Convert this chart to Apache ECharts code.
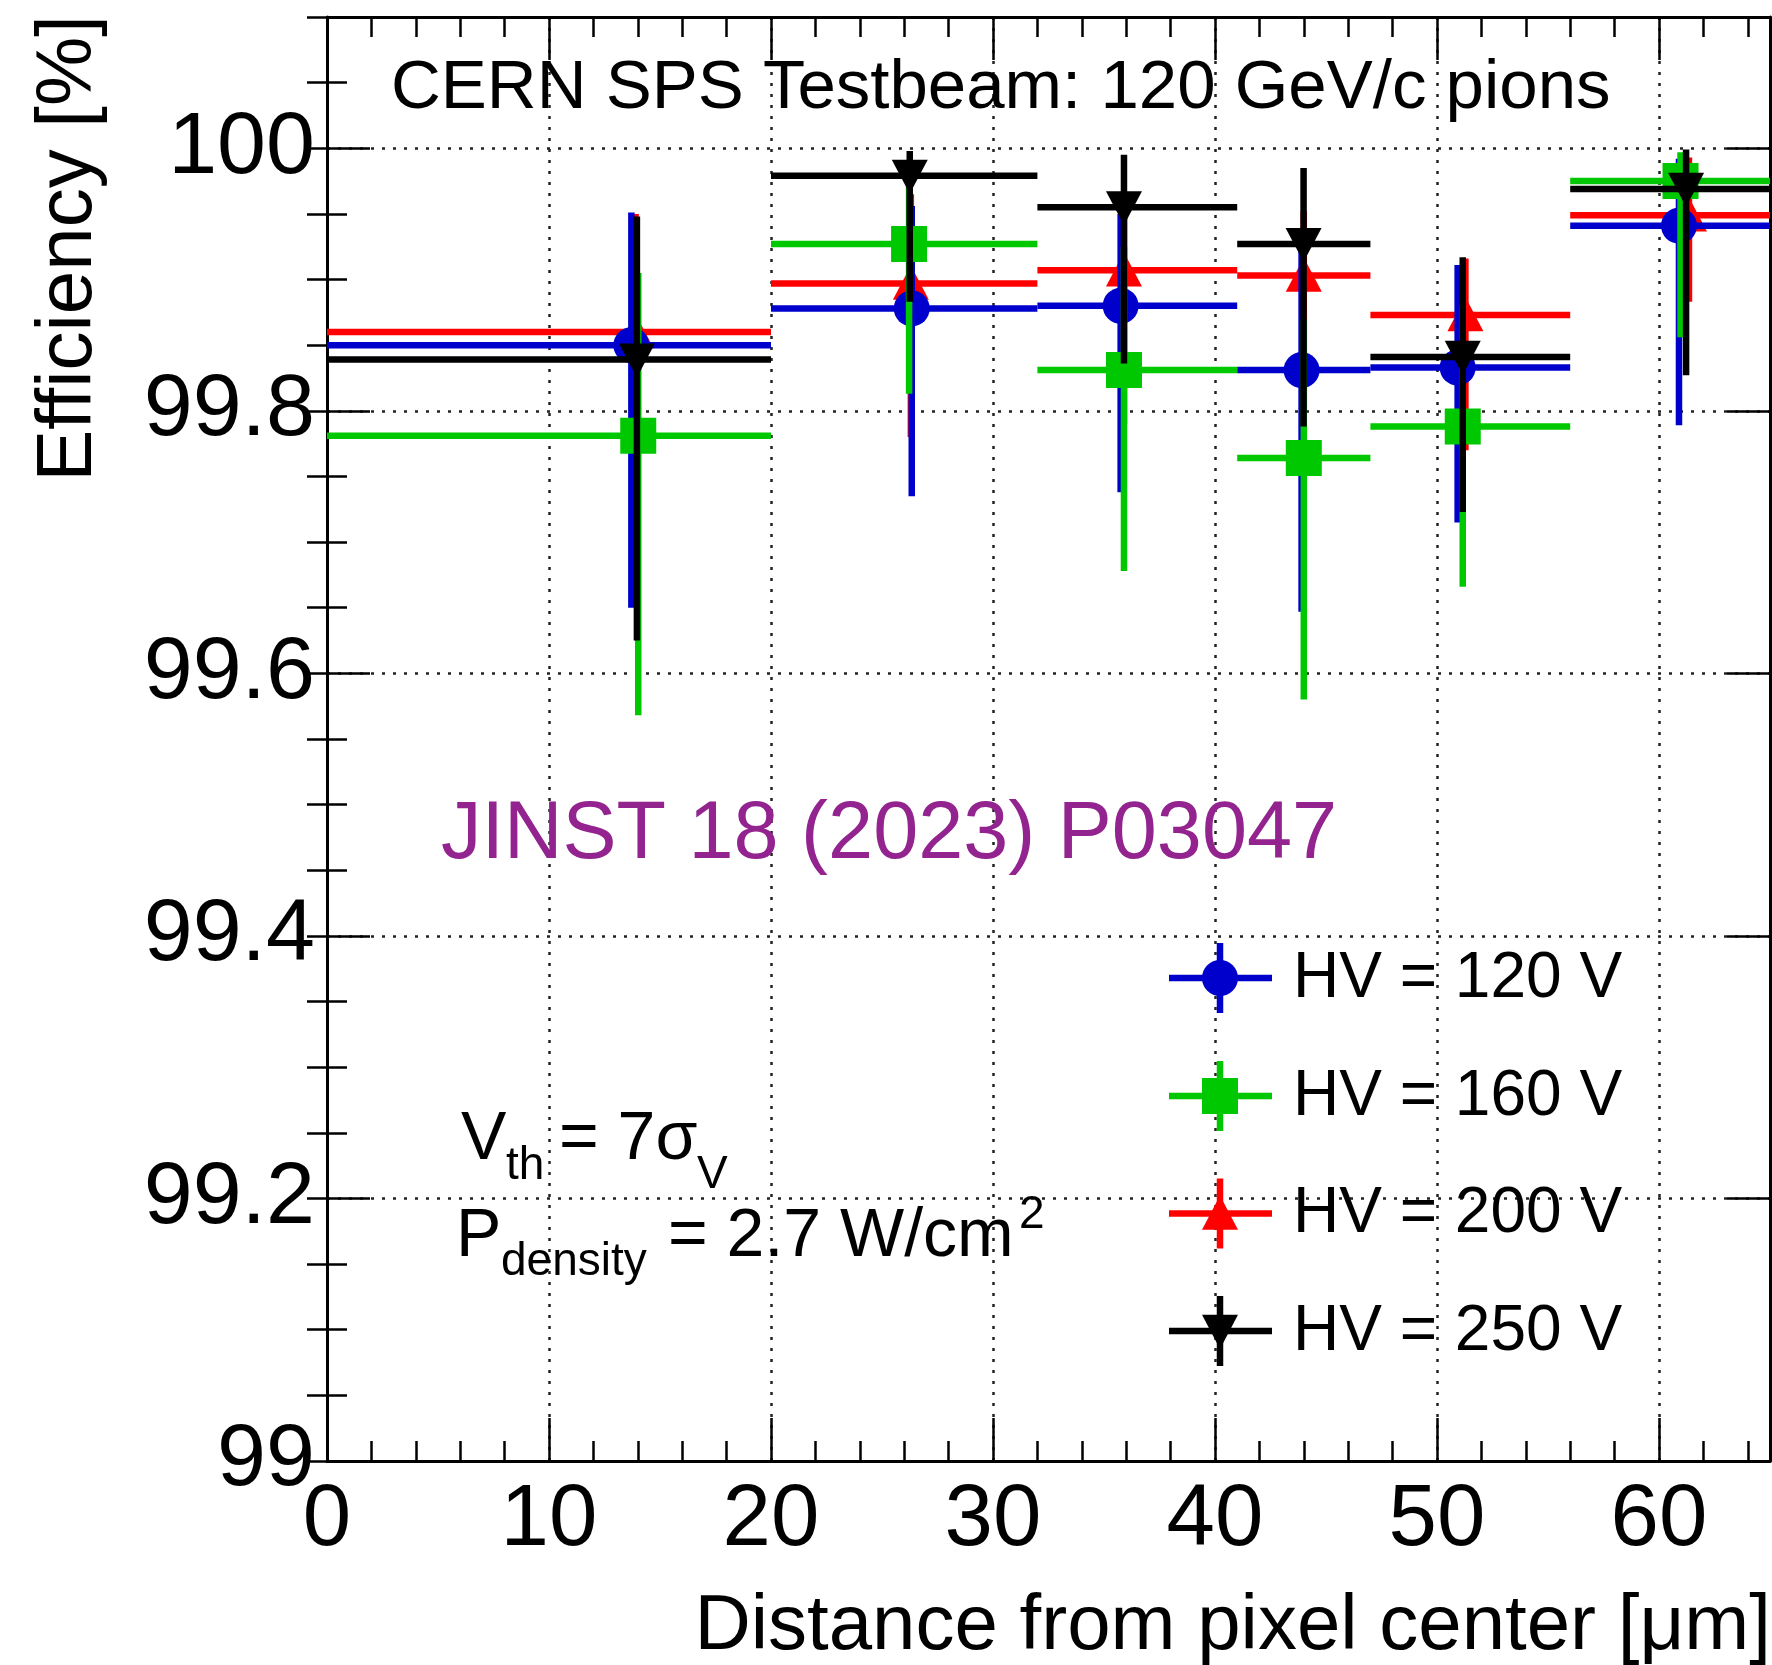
<!DOCTYPE html>
<html>
<head>
<meta charset="utf-8">
<script src="https://cdn.jsdelivr.net/npm/echarts@6/dist/echarts.min.js"></script>
<style>
html, body { margin: 0; padding: 0; background: #ffffff; }
#chart { width: 1772px; height: 1665px; }
</style>
</head>
<body>
<div id="chart"></div>
<script>
// ---------------- data ----------------
const binLow  = [0, 20, 32, 41, 47, 56];
const binHigh = [20, 32, 41, 47, 56, 66];

const xMin = 0, xMax = 65, xMajor = 10, xMinor = 2;
const yMin = 99, yMax = 100.1, yMajor = 0.2, yMinor = 0.05;

const seriesNames = ['HV = 120 V', 'HV = 160 V', 'HV = 200 V', 'HV = 250 V'];

// HV = 120 V
const hv120X    = [13.71, 26.34, 35.75, 43.90, 50.93, 60.90];
const hv120Eff  = [99.850, 99.878, 99.880, 99.831, 99.833, 99.941];
const hv120Low  = [99.650, 99.735, 99.738, 99.647, 99.715, 99.789];
const hv120High = [99.951, 99.956, 99.950, 99.925, 99.911, 99.992];
// HV = 160 V
const hv160X    = [14.02, 26.22, 35.90, 44.00, 51.16, 60.97];
const hv160Eff  = [99.781, 99.927, 99.831, 99.764, 99.788, 99.975];
const hv160Low  = [99.568, 99.813, 99.678, 99.580, 99.666, 99.856];
const hv160High = [99.905, 99.975, 99.925, 99.870, 99.880, 99.997];
// HV = 200 V
const hv200X    = [13.90, 26.30, 35.90, 44.00, 51.28, 61.35];
const hv200Eff  = [99.860, 99.897, 99.907, 99.903, 99.873, 99.949];
const hv200Low  = [99.700, 99.780, 99.790, 99.800, 99.770, 99.883];
const hv200High = [99.950, 99.965, 99.949, 99.952, 99.916, 99.993];
// HV = 250 V
const hv250X    = [13.96, 26.25, 35.90, 43.99, 51.16, 61.22];
const hv250Eff  = [99.839, 99.979, 99.955, 99.927, 99.841, 99.969];
const hv250Low  = [99.625, 99.883, 99.836, 99.788, 99.723, 99.827];
const hv250High = [99.948, 99.998, 99.995, 99.985, 99.917, 99.999];

// ---------------- styles ----------------
const FONT = "'Liberation Sans', Arial, Helvetica, sans-serif";
const LW = 6.5;
const MS = 18;
const styleDefs = {
  'HV = 120 V': { color: '#0000cc', marker: 'circle' },
  'HV = 160 V': { color: '#00c800', marker: 'square' },
  'HV = 200 V': { color: '#ff0000', marker: 'triangleUp' },
  'HV = 250 V': { color: '#000000', marker: 'triangleDown' }
};

function buildRows(xs, eff, lo, hi) {
  return xs.map((x, i) => [x, eff[i], binLow[i], binHigh[i], lo[i], hi[i]]);
}
const seriesData = {
  'HV = 120 V': buildRows(hv120X, hv120Eff, hv120Low, hv120High),
  'HV = 160 V': buildRows(hv160X, hv160Eff, hv160Low, hv160High),
  'HV = 200 V': buildRows(hv200X, hv200Eff, hv200Low, hv200High),
  'HV = 250 V': buildRows(hv250X, hv250Eff, hv250Low, hv250High)
};

function markerShape(kind, cx, cy, color) {
  const s = MS;
  if (kind === 'circle') {
    return { type: 'circle', shape: { cx: cx, cy: cy, r: s }, style: { fill: color } };
  }
  if (kind === 'square') {
    return { type: 'rect', shape: { x: cx - s, y: cy - s, width: 2 * s, height: 2 * s }, style: { fill: color } };
  }
  if (kind === 'triangleUp') {
    return { type: 'polygon', shape: { points: [[cx, cy - s], [cx - s, cy + s * 0.9], [cx + s, cy + s * 0.9]] }, style: { fill: color } };
  }
  return { type: 'polygon', shape: { points: [[cx - s, cy - s * 0.9], [cx + s, cy - s * 0.9], [cx, cy + s]] }, style: { fill: color } };
}

function makeRender(name) {
  const st = styleDefs[name];
  return function (params, api) {
    const x = api.value(0), y = api.value(1);
    const c = api.coord([x, y]);
    const l = api.coord([api.value(2), y]);
    const r = api.coord([api.value(3), y]);
    const lo = api.coord([x, api.value(4)]);
    const hi = api.coord([x, api.value(5)]);
    const cs = params.coordSys;
    const xl = Math.max(l[0], cs.x);
    const xr = Math.min(r[0], cs.x + cs.width);
    return {
      type: 'group',
      children: [
        { type: 'line', shape: { x1: xl, y1: c[1], x2: xr, y2: c[1] }, style: { stroke: st.color, lineWidth: LW, lineCap: 'butt' } },
        { type: 'line', shape: { x1: c[0], y1: hi[1], x2: c[0], y2: lo[1] }, style: { stroke: st.color, lineWidth: LW, lineCap: 'butt' } },
        markerShape(st.marker, c[0], c[1], st.color)
      ]
    };
  };
}

// drawing order (last on top)
const drawOrder = ['HV = 200 V', 'HV = 120 V', 'HV = 160 V', 'HV = 250 V'];
const series = drawOrder.map(name => ({
  name: name,
  type: 'custom',
  xAxisIndex: 0,
  yAxisIndex: 0,
  renderItem: makeRender(name),
  encode: { x: [0, 2, 3], y: [1, 4, 5] },
  data: seriesData[name],
  z: 5
}));

// ---------------- axes ----------------
const black = '#000000';
const frameLine = { show: true, onZero: false, lineStyle: { color: black, width: 3 } };
function tickAxis(dim, position, interval, len, main) {
  return {
    type: 'value',
    position: position,
    min: dim === 'x' ? xMin : yMin,
    max: dim === 'x' ? xMax : yMax,
    interval: interval,
    axisLine: main ? frameLine : { show: false },
    axisTick: { show: true, inside: true, length: len, lineStyle: { color: black, width: 2.5 } },
    axisLabel: { show: false },
    splitLine: { show: false }
  };
}

const xMainAxis = tickAxis('x', 'bottom', xMajor, 43, true);
xMainAxis.axisLabel = {
  show: true, margin: 17, color: black, fontSize: 87, fontFamily: FONT,
  showMaxLabel: false
};
xMainAxis.splitLine = { show: true, lineStyle: { color: '#222', width: 2.5, type: [3, 8] } };

const yMainAxis = tickAxis('y', 'left', yMajor, 43, true);
yMainAxis.axisLabel = {
  show: true, margin: 12, color: black, fontSize: 88, fontFamily: FONT,
  showMaxLabel: false,
  formatter: function (v) {
    return Math.abs(v - Math.round(v)) < 1e-6 ? String(Math.round(v)) : v.toFixed(1);
  }
};
yMainAxis.splitLine = { show: true, lineStyle: { color: '#222', width: 2.5, type: [3, 8] } };

const xAxes = [
  xMainAxis,
  tickAxis('x', 'bottom', xMinor, 20, false),
  tickAxis('x', 'top', xMajor, 43, true),
  tickAxis('x', 'top', xMinor, 20, false)
];
const yAxes = [
  yMainAxis,
  tickAxis('y', 'left', yMinor, 20, false),
  tickAxis('y', 'right', yMajor, 43, true),
  tickAxis('y', 'right', yMinor, 20, false)
];

// ---------------- legend & texts (graphic) ----------------
const legendRowsY = [978, 1096, 1213.5, 1331];
const legendGraphics = [];
seriesNames.forEach((name, i) => {
  const st = styleDefs[name];
  const y = legendRowsY[i];
  legendGraphics.push({ type: 'line', shape: { x1: 1169, y1: y, x2: 1272, y2: y }, style: { stroke: st.color, lineWidth: LW }, z: 10 });
  legendGraphics.push({ type: 'line', shape: { x1: 1220, y1: y - 35, x2: 1220, y2: y + 35 }, style: { stroke: st.color, lineWidth: LW }, z: 10 });
  const m = markerShape(st.marker, 1220, y, st.color);
  m.z = 10;
  legendGraphics.push(m);
  legendGraphics.push({
    type: 'text', x: 1293, y: y + 1, z: 10,
    style: { text: name, fontSize: 64, fontFamily: FONT, fill: black, align: 'left', verticalAlign: 'middle', textAlign: 'left', textVerticalAlign: 'middle' }
  });
});

function txt(text, x, y, size, opts) {
  const o = opts || {};
  return {
    type: 'text', x: x, y: y, z: 10,
    rotation: o.rotation || 0,
    style: {
      text: text, fontSize: size, fontFamily: FONT, fill: o.fill || black,
      align: o.align || 'left', verticalAlign: o.valign || 'middle',
      textAlign: o.align || 'left', textVerticalAlign: o.valign || 'middle'
    }
  };
}

const textGraphics = [
  txt('CERN SPS Testbeam: 120 GeV/c pions', 391, 89, 69),
  txt('JINST 18 (2023) P03047', 441, 836, 81, { fill: '#93238f' }),
  txt('V', 461, 1140, 68),
  txt('th', 506, 1166, 46),
  txt('= 7σ', 559, 1140, 68),
  txt('V', 697, 1175, 46),
  txt('P', 456, 1237, 68),
  txt('density', 501, 1262, 46),
  txt('= 2.7 W/cm', 668, 1237, 68),
  txt('2', 1019, 1215, 46),
  txt('Distance from pixel center [μm]', 1771, 1627, 78, { align: 'right' }),
  txt('Efficiency [%]', 69, 15, 78, { align: 'right', rotation: Math.PI / 2 })
];

const chart = echarts.init(document.getElementById('chart'), null, { renderer: 'canvas' });
chart.setOption({
  backgroundColor: '#ffffff',
  animation: false,
  grid: { left: 327, right: 2, top: 17, bottom: 204, containLabel: false },
  xAxis: xAxes,
  yAxis: yAxes,
  series: series,
  graphic: { elements: textGraphics.concat(legendGraphics) }
});
</script>
</body>
</html>
